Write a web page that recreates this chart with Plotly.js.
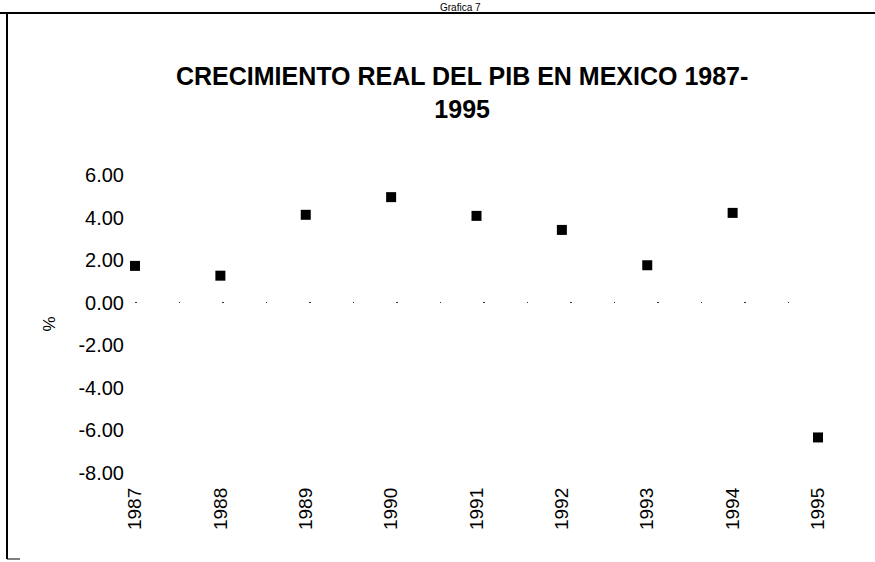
<!DOCTYPE html>
<html>
<head>
<meta charset="utf-8">
<script src="https://cdn.plot.ly/plotly-3.0.1.min.js"></script>
<style>html,body{margin:0;padding:0;background:#fff;}#chart{width:875px;height:562px;}</style>
</head>
<body>
<div id="chart"></div>
<script>
const years = [1987, 1988, 1989, 1990, 1991, 1992, 1993, 1994, 1995];
const growth = [1.73, 1.27, 4.13, 4.96, 4.08, 3.42, 1.76, 4.22, -6.33];
const yTicks = [6, 4, 2, 0, -2, -4, -6, -8];
const yTickLabels = ["6.00", "4.00", "2.00", "0.00", "-2.00", "-4.00", "-6.00", "-8.00"];
const chartTitle = "CRECIMIENTO REAL DEL PIB EN MEXICO 1987-<br>1995";
const pageLabel = "Grafica 7";

const W = 875, H = 562;
const M = {l: 135, r: 57, t: 175, b: 89};
const pw = W - M.l - M.r, ph = H - M.t - M.b;
const px = x => (x - M.l) / pw;
const py = y => 1 - (y - M.t) / ph;

const trace = {
  x: years, y: growth, type: 'scatter', mode: 'markers',
  marker: {symbol: 'square', size: 10, color: '#000'},
  cliponaxis: false, hoverinfo: 'x+y'
};

const layout = {
  width: W, height: H, margin: M,
  paper_bgcolor: '#fff', plot_bgcolor: '#fff',
  showlegend: false,
  font: {family: 'Liberation Sans, Arial, sans-serif', color: '#000'},
  xaxis: {
    range: [1987, 1995], tickvals: years, ticktext: years.map(String),
    tickangle: -90, showgrid: false, zeroline: false, showline: false,
    ticks: '', tickfont: {size: 19}, ticklabelstandoff: 10
  },
  yaxis: {
    range: [-8, 6], tickvals: yTicks, ticktext: yTickLabels,
    showgrid: false, showline: false, ticks: '', tickfont: {size: 20},
    ticklabelstandoff: 10,
    zeroline: true, zerolinecolor: '#333', zerolinewidth: 1.5,
    title: {text: '%', font: {size: 17}, standoff: 18}
  },
  shapes: [
    {type: 'line', xref: 'paper', yref: 'paper', x0: px(0), x1: px(875), y0: py(13), y1: py(13), line: {color: '#000', width: 2}},
    {type: 'line', xref: 'paper', yref: 'paper', x0: px(7), x1: px(7), y0: py(13), y1: py(559), line: {color: '#000', width: 2}},
    {type: 'line', xref: 'paper', yref: 'paper', x0: px(7), x1: px(20), y0: py(559), y1: py(559), line: {color: '#000', width: 1}}
  ],
  annotations: [
    {xref: 'paper', yref: 'paper', x: px(462), y: py(92), text: chartTitle, showarrow: false,
     xanchor: 'center', yanchor: 'middle',
     font: {family: 'Liberation Sans Narrow, Arial Narrow, sans-serif', size: 25, color: '#000', weight: 'bold'}},
    {xref: 'paper', yref: 'paper', x: px(460), y: py(1), text: pageLabel, showarrow: false,
     xanchor: 'center', yanchor: 'top', borderpad: 0, font: {size: 10, color: '#000'}}
  ]
};
Plotly.newPlot('chart', [trace], layout, {staticPlot: true}).then(function () {
  const zl = document.querySelector('.zerolinelayer path, path.yzl');
  if (zl) zl.style.strokeDasharray = '1.5px,42px';
});
</script>
</body>
</html>
